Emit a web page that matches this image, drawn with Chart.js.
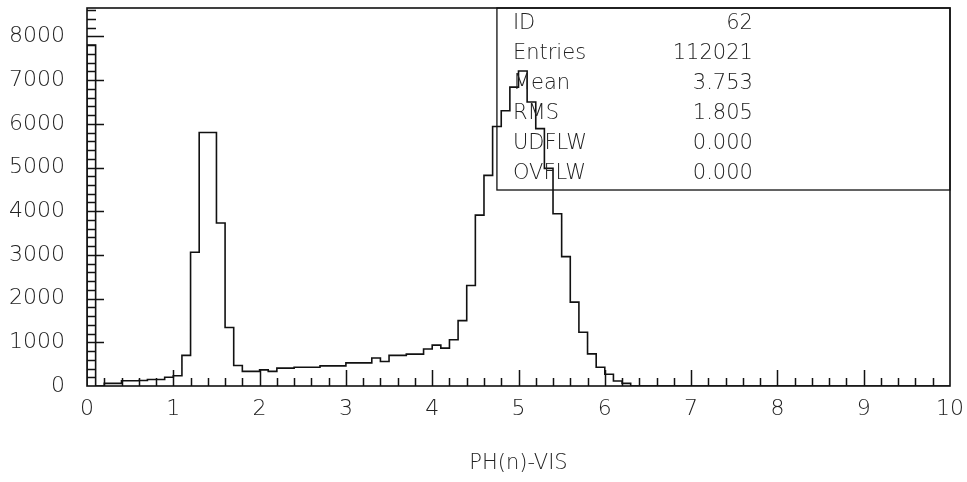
<!DOCTYPE html>
<html>
<head>
<meta charset="utf-8">
<script src="https://cdn.jsdelivr.net/npm/chart.js@4.4.1/dist/chart.umd.min.js"></script>
<style>
  html, body { margin: 0; padding: 0; background: #fff; }
  #wrap { width: 967px; height: 482px; }
</style>
</head>
<body>
<div id="wrap"><canvas id="hist"></canvas></div>
<script>
// histogram 62, 100 bins of 0.1 from 0 to 10
const binLow = 0;
const binWidth = 0.1;
const counts = [
  7800, 0, 60, 60, 120, 120, 125, 150, 150, 200,        // 0.0 - 0.9
  235, 700, 3060, 5800, 5800, 3730, 1340, 470, 335, 335, // 1.0 - 1.9
  370, 335, 410, 410, 430, 430, 430, 460, 460, 460,      // 2.0 - 2.9
  530, 530, 530, 640, 560, 700, 700, 730, 730, 845,      // 3.0 - 3.9
  935, 866, 1060, 1495, 2300, 3910, 4820, 5940, 6300, 6840, // 4.0 - 4.9
  7210, 6500, 5890, 4980, 3940, 2960, 1920, 1230, 735, 430, // 5.0 - 5.9
  270, 115, 60, 0, 0, 0, 0, 0, 0, 0,                     // 6.0 - 6.9
  0, 0, 0, 0, 0, 0, 0, 0, 0, 0,                          // 7.0 - 7.9
  0, 0, 0, 0, 0, 0, 0, 0, 0, 0,                          // 8.0 - 8.9
  0, 0, 0, 0, 0, 0, 0, 0, 0, 0                           // 9.0 - 9.9
];

const xTickValues = [0, 1, 2, 3, 4, 5, 6, 7, 8, 9, 10];
const yTickValues = [0, 1000, 2000, 3000, 4000, 5000, 6000, 7000, 8000];
const yTop = 8650;

const statLabels = ['ID', 'Entries', 'Mean', 'RMS', 'UDFLW', 'OVFLW'];
const statValues = ['62', '112021', '3.753', '1.805', '0.000', '0.000'];

const FONT = 'DejaVu Sans';
const INK = '#111';

// outline points: start on the baseline, each bin edge holds its count to the right
const points = [{ x: binLow, y: 0 }];
counts.forEach((c, i) => points.push({ x: binLow + i * binWidth, y: c }));
points.push({ x: binLow + counts.length * binWidth, y: counts[counts.length - 1] });

// no automatic label margins, the layout padding decides the plot box
function noMargins(s) {
  s.paddingTop = 0;
  s.paddingBottom = 0;
  s.paddingLeft = 0;
  s.paddingRight = 0;
}

// frame, inward ticks and the stats box
const paw = {
  id: 'paw',
  afterDatasetsDraw(chart) {
    const { ctx, chartArea: a, scales } = chart;
    const x = scales.x, y = scales.y;
    ctx.save();
    ctx.strokeStyle = INK;

    ctx.lineWidth = 1.5;
    ctx.beginPath();
    for (let k = 1; k < 50; k++) {
      const px = Math.round(x.getPixelForValue(k * 0.2)) + 0.5;
      const len = k % 5 === 0 ? 16 : 8;
      ctx.moveTo(px, a.bottom);
      ctx.lineTo(px, a.bottom - len);
    }
    for (let k = 1; k <= 43; k++) {
      const py = Math.round(y.getPixelForValue(k * 200)) + 0.5;
      const len = k % 5 === 0 ? 17 : 9;
      ctx.moveTo(a.left, py);
      ctx.lineTo(a.left + len, py);
    }
    ctx.stroke();

    ctx.lineWidth = 1.6;
    ctx.strokeRect(a.left, a.top, a.right - a.left, a.bottom - a.top);

    // stats box
    const bx = a.left + (a.right - a.left) * 0.475;
    const bh = (a.bottom - a.top) * 0.4815;
    ctx.lineWidth = 1.3;
    ctx.strokeRect(bx, a.top, a.right - bx, bh);

    ctx.fillStyle = '#222';
    ctx.font = '200 21px "' + FONT + '"';
    ctx.textBaseline = 'middle';
    statLabels.forEach((lab, i) => {
      const ty = a.top + 16 + i * 30;
      ctx.textAlign = 'left';
      ctx.fillText(lab, bx + 16, ty);
      ctx.textAlign = 'right';
      ctx.fillText(statValues[i], bx + 256, ty);
    });
    ctx.restore();
  }
};

new Chart(document.getElementById('hist'), {
  type: 'line',
  data: {
    datasets: [{
      data: points,
      stepped: 'before',
      borderColor: INK,
      borderWidth: 1.6,
      pointRadius: 0,
      fill: false,
      tension: 0
    }]
  },
  options: {
    responsive: true,
    maintainAspectRatio: false,
    animation: false,
    layout: { padding: { left: 0, top: 8, right: 17, bottom: 0 } },
    plugins: { legend: { display: false }, tooltip: { enabled: false } },
    scales: {
      x: {
        type: 'linear',
        min: 0,
        max: 10,
        grid: { display: false, drawTicks: false },
        border: { display: false },
        afterBuildTicks: (s) => { s.ticks = xTickValues.map(v => ({ value: v })); },
        afterFit: (s) => { s.height = 96; noMargins(s); },
        ticks: {
          padding: 10,
          maxRotation: 0,
          autoSkip: false,
          color: '#222',
          font: { family: FONT, size: 22, weight: '200' },
          callback: (v) => String(v)
        },
        title: {
          display: true,
          text: 'PH(n)-VIS',
          color: '#222',
          font: { family: FONT, size: 21, weight: '200' },
          padding: { top: 0, bottom: 6 }
        }
      },
      y: {
        type: 'linear',
        min: 0,
        max: yTop,
        grid: { display: false, drawTicks: false },
        border: { display: false },
        afterBuildTicks: (s) => { s.ticks = yTickValues.map(v => ({ value: v })); },
        afterFit: (s) => { s.width = 87; noMargins(s); },
        ticks: {
          padding: 22,
          autoSkip: false,
          color: '#222',
          font: { family: FONT, size: 22, weight: '200' },
          callback: (v) => String(v)
        }
      }
    }
  },
  plugins: [paw]
});
</script>
</body>
</html>
